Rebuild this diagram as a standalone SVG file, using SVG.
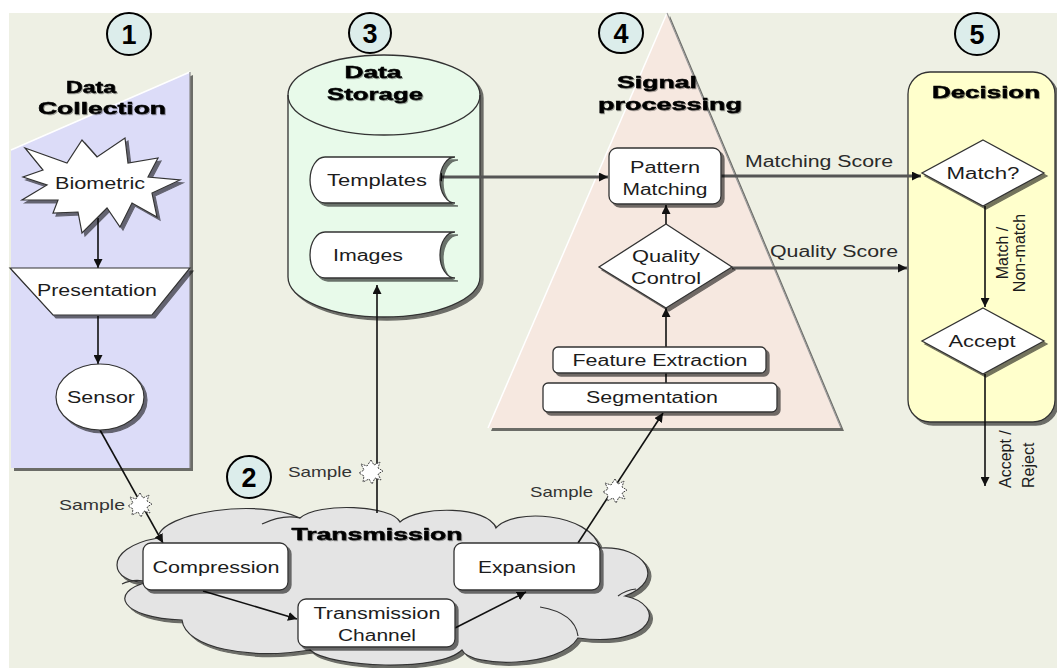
<svg xmlns="http://www.w3.org/2000/svg" width="1057" height="668" viewBox="0 0 1057 668">
  <style>
    .lbl { font-family: "Liberation Sans", Arial, sans-serif; font-size: 16px; fill: #1c1c1c; text-anchor: middle; }
    .lblS { font-family: "Liberation Sans", Arial, sans-serif; font-size: 16px; fill: #2a2a2a; }
    .ttl { font-family: "Liberation Sans", Arial, sans-serif; font-size: 17px; font-weight: bold; fill: #000; stroke: #000; stroke-width: 0.5; text-anchor: middle; }
    .num { font-family: "Liberation Sans", Arial, sans-serif; font-size: 27px; font-weight: bold; fill: #000; text-anchor: middle; }
    .smp { font-family: "Liberation Sans", Arial, sans-serif; font-size: 15px; fill: #333; text-anchor: end; }
    .rot { font-family: "Liberation Sans", Arial, sans-serif; font-size: 16px; fill: #1c1c1c; }
    .box { fill: #fff; stroke: #333; stroke-width: 1.3; }
    .badge { fill: #dcedeb; stroke: #000; stroke-width: 2; }
    .ln { fill: none; stroke: #111; stroke-width: 1.6; }
    .lnG { fill: none; stroke: #555; stroke-width: 3; }
    .spark { fill: #fff; stroke: #444; stroke-width: 1; stroke-dasharray: 2 1; }
  </style>
  <defs>
    <filter id="sh" x="-10%" y="-10%" width="130%" height="130%">
      <feOffset in="SourceAlpha" dx="3" dy="3" result="o"/>
      <feComponentTransfer in="o" result="g"><feFuncA type="linear" slope="0.55"/></feComponentTransfer>
      <feMerge><feMergeNode in="g"/><feMergeNode in="SourceGraphic"/></feMerge>
    </filter>
    <filter id="tsh" x="-5%" y="-20%" width="115%" height="150%">
      <feOffset in="SourceAlpha" dx="1" dy="1" result="o"/>
      <feComponentTransfer in="o" result="g"><feFuncA type="linear" slope="0.35"/></feComponentTransfer>
      <feMerge><feMergeNode in="g"/><feMergeNode in="SourceGraphic"/></feMerge>
    </filter>
    <marker id="arr" viewBox="0 0 10 10" refX="10" refY="5" markerWidth="9" markerHeight="9" markerUnits="userSpaceOnUse" orient="auto-start-reverse">
      <path d="M0,0 L10,5 L0,10 z" fill="#111"/>
    </marker>
    <polygon id="spark" points="0,-12 3,-7 9,-10 7,-4 12,-1 7,2 10,8 4,6 1,12 -2,7 -8,10 -7,4 -12,1 -7,-2 -10,-8 -4,-6"/>
  </defs>

  <!-- canvas -->
  <rect x="0" y="0" width="1057" height="668" fill="#fff"/>
  <rect x="9" y="13" width="1048" height="655" fill="#eef0e4"/>

  <!-- stage backgrounds -->
  <g id="stage1-panel">
    <polygon points="11,150 190,72 190,468 11,468" fill="#dcdcf8" filter="url(#sh)"/>
    <line x1="11" y1="150" x2="190" y2="72" stroke="#fff" stroke-width="1.5"/>
    <line x1="190" y1="72" x2="190" y2="468" stroke="#888" stroke-width="1.2"/>
  </g>
  <g id="stage4-panel">
    <polygon points="667,13 488,428 841,428" fill="#f6e8e0" filter="url(#sh)"/>
    <line x1="667" y1="13" x2="488" y2="428" stroke="#fff" stroke-width="1.5"/>
    <line x1="667" y1="13" x2="841" y2="428" stroke="#999" stroke-width="1.2"/>
  </g>
  <g id="stage5-panel">
    <rect x="908" y="72" width="147" height="350" rx="22" fill="#ffffcc" stroke="#333" stroke-width="1.3" filter="url(#sh)"/>
  </g>
  <g id="stage3-storage">
    <path d="M288,95 V277 A96 40 0 0 0 480,277 V95 A96 40 0 0 0 288,95 Z" fill="#e8faea" stroke="#333" stroke-width="1.3" filter="url(#sh)"/>
    <path d="M288,95 A96 40 0 0 0 480,95" fill="none" stroke="#333" stroke-width="1.3"/>
  </g>
  <g id="stage2-cloud">
    <path d="M148,582 C110,585 100,548 158,538 C160,512 260,498 300,518 C318,502 392,505 400,522 C420,505 488,506 496,528 C512,508 590,512 600,548 C645,545 668,580 625,596 C668,605 655,648 578,638 C560,668 470,668 462,650 C440,672 330,668 310,650 C250,660 185,648 182,620 C120,618 108,592 148,582 Z" fill="#e4e4e4" stroke="#333" stroke-width="1.2" filter="url(#sh)"/>
    <path d="M540,607 Q575,613 578,636 M262,524 Q283,514 300,518 M122,584 Q134,578 148,582 M618,596 Q626,590 636,589" fill="none" stroke="#333" stroke-width="1.2"/>
  </g>

  <!-- stage numbers -->
  <g id="badge1"><ellipse class="badge" cx="129" cy="34" rx="22" ry="21"/><text class="num" x="129" y="44">1</text></g>
  <g id="badge2"><ellipse class="badge" cx="249" cy="477" rx="22" ry="21"/><text class="num" x="249" y="487">2</text></g>
  <g id="badge3"><ellipse class="badge" cx="370" cy="33" rx="21" ry="20"/><text class="num" x="370" y="43">3</text></g>
  <g id="badge4"><ellipse class="badge" cx="621" cy="33" rx="22" ry="20"/><text class="num" x="621" y="43">4</text></g>
  <g id="badge5"><ellipse class="badge" cx="977" cy="34" rx="22" ry="21"/><text class="num" x="977" y="44">5</text></g>

  <!-- stage titles -->
  <g id="titles" filter="url(#tsh)">
    <text class="ttl" x="91" y="93" textLength="50" lengthAdjust="spacingAndGlyphs">Data</text>
    <text class="ttl" x="102" y="114" textLength="128" lengthAdjust="spacingAndGlyphs">Collection</text>
    <text class="ttl" x="373" y="78" textLength="57" lengthAdjust="spacingAndGlyphs">Data</text>
    <text class="ttl" x="375" y="100" textLength="96" lengthAdjust="spacingAndGlyphs">Storage</text>
    <text class="ttl" x="657" y="88" textLength="80" lengthAdjust="spacingAndGlyphs">Signal</text>
    <text class="ttl" x="670" y="110" textLength="144" lengthAdjust="spacingAndGlyphs">processing</text>
    <text class="ttl" x="986" y="98" textLength="108" lengthAdjust="spacingAndGlyphs">Decision</text>
    <text class="ttl" x="377" y="540" textLength="171" lengthAdjust="spacingAndGlyphs">Transmission</text>
  </g>

  <!-- connectors -->
  <g id="connectors">
    <line class="ln" x1="98" y1="218" x2="98" y2="268" marker-end="url(#arr)"/>
    <line class="ln" x1="98" y1="316" x2="98" y2="364" marker-end="url(#arr)"/>
    <line class="ln" x1="100" y1="430" x2="163" y2="543" marker-end="url(#arr)"/>
    <line class="ln" x1="203" y1="591" x2="297" y2="619" marker-end="url(#arr)"/>
    <line class="ln" x1="455" y1="628" x2="526" y2="592" marker-end="url(#arr)"/>
    <line class="ln" x1="578" y1="543" x2="663" y2="413" marker-end="url(#arr)"/>
    <line class="ln" x1="377" y1="513" x2="377" y2="285" stroke-width="2" marker-end="url(#arr)"/>
    <line class="lnG" x1="433" y1="177" x2="608" y2="177" marker-start="url(#arr)" marker-end="url(#arr)"/>
    <line class="ln" x1="666" y1="224" x2="666" y2="205" marker-end="url(#arr)"/>
    <line class="ln" x1="666" y1="347" x2="666" y2="308" marker-end="url(#arr)"/>
    <line class="ln" x1="666" y1="373" x2="666" y2="383"/>
    <line class="lnG" x1="721" y1="176" x2="921" y2="176" marker-end="url(#arr)"/>
    <line class="lnG" x1="732" y1="268" x2="907" y2="268" marker-end="url(#arr)"/>
    <line class="ln" x1="985" y1="206" x2="985" y2="307" stroke-width="2" marker-end="url(#arr)"/>
    <line class="ln" x1="985" y1="374" x2="985" y2="486" stroke-width="2" marker-end="url(#arr)"/>
    <use href="#spark" class="spark" x="140" y="505"/>
    <use href="#spark" class="spark" x="371" y="472"/>
    <use href="#spark" class="spark" x="615" y="491"/>
    <text class="smp" x="125" y="510" textLength="66" lengthAdjust="spacingAndGlyphs">Sample</text>
    <text class="smp" x="352" y="477" textLength="64" lengthAdjust="spacingAndGlyphs">Sample</text>
    <text class="smp" x="593" y="497" textLength="63" lengthAdjust="spacingAndGlyphs">Sample</text>
    <text class="lblS" x="745" y="167" textLength="148" lengthAdjust="spacingAndGlyphs">Matching Score</text>
    <text class="lblS" x="770" y="257" textLength="128" lengthAdjust="spacingAndGlyphs">Quality Score</text>
    <text class="rot" text-anchor="middle" transform="translate(1008,253) rotate(-90)">Match /</text>
    <text class="rot" text-anchor="middle" transform="translate(1025,253) rotate(-90)">Non-match</text>
    <text class="rot" transform="translate(1011,488) rotate(-90)">Accept /</text>
    <text class="rot" transform="translate(1034,488) rotate(-90)">Reject</text>
  </g>

  <!-- stage 1 nodes -->
  <g id="biometric">
    <polygon points="25,148 67,163 82,140 97,157 125,138 128,163 158,158 148,177 180,180 152,193 157,217 132,203 120,227 107,208 82,233 78,212 53,213 58,200 22,200 47,185 23,177 43,170" fill="#fff" stroke="#333" stroke-width="1.2" filter="url(#sh)"/>
    <text class="lbl" x="100" y="189" textLength="90" lengthAdjust="spacingAndGlyphs">Biometric</text>
  </g>
  <g id="presentation">
    <polygon points="10,268 190,268 152,315 53,315" fill="#fff" stroke="#333" stroke-width="1.2" filter="url(#sh)"/>
    <text class="lbl" x="97" y="296" textLength="120" lengthAdjust="spacingAndGlyphs">Presentation</text>
  </g>
  <g id="sensor">
    <ellipse cx="100" cy="397" rx="44" ry="33" fill="#fff" stroke="#333" stroke-width="1.2" filter="url(#sh)"/>
    <text class="lbl" x="101" y="403" textLength="68" lengthAdjust="spacingAndGlyphs">Sensor</text>
  </g>

  <!-- stage 2 nodes -->
  <g id="compression">
    <rect class="box" x="143" y="543" width="145" height="47" rx="8" filter="url(#sh)"/>
    <text class="lbl" x="216" y="573" textLength="127" lengthAdjust="spacingAndGlyphs">Compression</text>
  </g>
  <g id="channel">
    <rect class="box" x="298" y="599" width="157" height="48" rx="8" filter="url(#sh)"/>
    <text class="lbl" x="377" y="619" textLength="127" lengthAdjust="spacingAndGlyphs">Transmission</text>
    <text class="lbl" x="377" y="641" textLength="78" lengthAdjust="spacingAndGlyphs">Channel</text>
  </g>
  <g id="expansion">
    <rect class="box" x="454" y="543" width="146" height="47" rx="8" filter="url(#sh)"/>
    <text class="lbl" x="527" y="573" textLength="98" lengthAdjust="spacingAndGlyphs">Expansion</text>
  </g>

  <!-- stage 3 nodes -->
  <g id="templates">
    <path class="box" d="M325,157 H455 A15 23 0 0 0 455,203 H325 A15 23 0 0 1 325,157 Z" filter="url(#sh)"/>
    <text class="lbl" x="377" y="186" textLength="100" lengthAdjust="spacingAndGlyphs">Templates</text>
  </g>
  <g id="images">
    <path class="box" d="M325,232 H455 A15 23 0 0 0 455,278 H325 A15 23 0 0 1 325,232 Z" filter="url(#sh)"/>
    <text class="lbl" x="368" y="261" textLength="70" lengthAdjust="spacingAndGlyphs">Images</text>
  </g>

  <!-- stage 4 nodes -->
  <g id="pattern-matching">
    <rect class="box" x="609" y="148" width="112" height="56" rx="8" filter="url(#sh)"/>
    <text class="lbl" x="665" y="173" textLength="70" lengthAdjust="spacingAndGlyphs">Pattern</text>
    <text class="lbl" x="665" y="195" textLength="85" lengthAdjust="spacingAndGlyphs">Matching</text>
  </g>
  <g id="quality-control">
    <polygon class="box" points="666,224 732,267 666,308 599,267" filter="url(#sh)"/>
    <text class="lbl" x="666" y="262" textLength="68" lengthAdjust="spacingAndGlyphs">Quality</text>
    <text class="lbl" x="666" y="284" textLength="70" lengthAdjust="spacingAndGlyphs">Control</text>
  </g>
  <g id="feature-extraction">
    <rect class="box" x="553" y="347" width="213" height="26" rx="5" filter="url(#sh)"/>
    <text class="lbl" x="660" y="366" textLength="175" lengthAdjust="spacingAndGlyphs">Feature Extraction</text>
  </g>
  <g id="segmentation">
    <rect class="box" x="543" y="383" width="234" height="29" rx="5" filter="url(#sh)"/>
    <text class="lbl" x="652" y="403" textLength="132" lengthAdjust="spacingAndGlyphs">Segmentation</text>
  </g>

  <!-- stage 5 nodes -->
  <g id="match">
    <polygon class="box" points="983,140 1044,173 983,206 922,173" filter="url(#sh)"/>
    <text class="lbl" x="983" y="179" textLength="73" lengthAdjust="spacingAndGlyphs">Match?</text>
  </g>
  <g id="accept">
    <polygon class="box" points="983,308 1044,341 983,374 922,341" filter="url(#sh)"/>
    <text class="lbl" x="982" y="347" textLength="67" lengthAdjust="spacingAndGlyphs">Accept</text>
  </g>
</svg>
